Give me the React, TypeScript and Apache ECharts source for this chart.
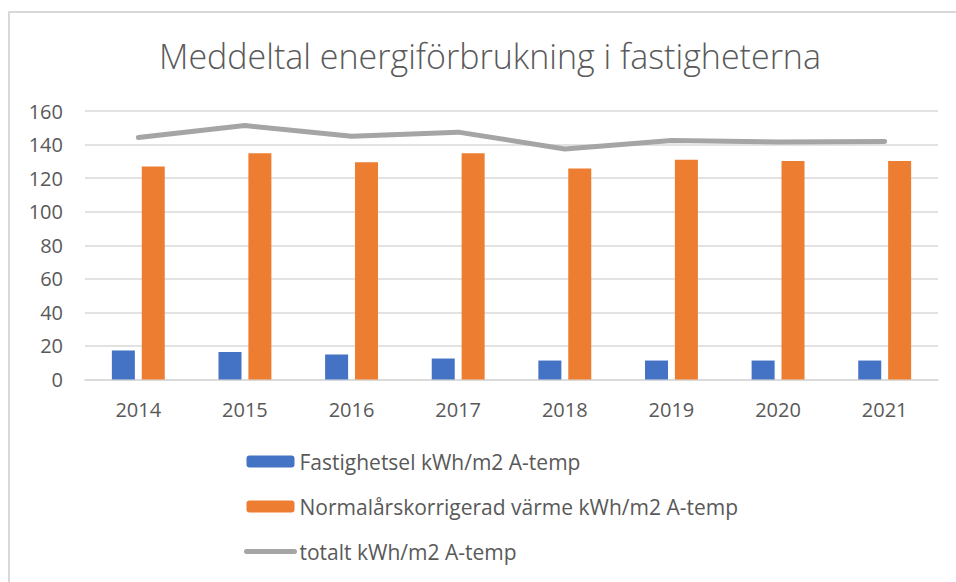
import React, { useEffect, useRef } from "react";
import * as echarts from "echarts";

const years = ["2014", "2015", "2016", "2017", "2018", "2019", "2020", "2021"];
const fastighetsel = [17.3, 16.4, 14.9, 12.5, 11.3, 11.3, 11.3, 11.3];
const varme = [127.0, 134.8, 129.4, 134.8, 125.7, 131.0, 130.2, 130.2];
const totalt = [144.2, 151.3, 145.0, 147.4, 137.4, 142.4, 141.6, 141.8];

const seriesNames = [
  "Fastighetsel kWh/m2 A-temp",
  "Normalårskorrigerad värme kWh/m2 A-temp",
  "totalt kWh/m2 A-temp",
];

const FONT = "'Open Sans', sans-serif";
const TEXT = "#595959";
const GRID = "#d9d9d9";

export default function App() {
  const ref = useRef<HTMLDivElement>(null);
  useEffect(() => {
    if (!ref.current) return;
    const chart = echarts.init(ref.current, undefined, { renderer: "svg" });
    chart.setOption({
      animation: false,
      backgroundColor: "#ffffff",
      title: {
        text: "Meddeltal energiförbrukning i fastigheterna",
        left: 485,
        top: 34,
        textAlign: "center",
        textStyle: {
          fontFamily: FONT,
          fontWeight: 300,
          fontSize: 34,
          color: TEXT,
        },
      },
      graphic: [
        {
          type: "line",
          shape: { x1: 9, y1: 12, x2: 9, y2: 582 },
          style: { stroke: GRID, lineWidth: 2 },
        },
        {
          type: "line",
          shape: { x1: 8, y1: 12, x2: 956, y2: 12 },
          style: { stroke: GRID, lineWidth: 2 },
        },
      ],
      grid: { left: 85, right: 18, top: 111, height: 268.5 },
      legend: {
        orient: "vertical",
        left: 244,
        top: 451,
        padding: 0,
        itemWidth: 48,
        itemHeight: 12,
        itemGap: 24,
        textStyle: { fontFamily: FONT, fontSize: 21, color: TEXT },
        data: [
          seriesNames[0],
          seriesNames[1],
          {
            name: seriesNames[2],
            itemStyle: { color: "rgba(0,0,0,0)", borderWidth: 0, opacity: 0 },
            lineStyle: { color: "#a5a5a5", width: 5, cap: "round" },
          },
        ],
      },
      xAxis: {
        type: "category",
        data: years,
        axisLine: { lineStyle: { color: GRID, width: 1.5 } },
        axisTick: { show: false },
        axisLabel: { fontFamily: FONT, fontSize: 20, color: TEXT, margin: 20 },
      },
      yAxis: {
        type: "value",
        min: 0,
        max: 160,
        interval: 20,
        axisLine: { show: false },
        axisTick: { show: false },
        splitLine: { lineStyle: { color: GRID, width: 1.5 } },
        axisLabel: { fontFamily: FONT, fontSize: 20, color: TEXT, margin: 22 },
      },
      series: [
        {
          name: seriesNames[0],
          type: "bar",
          data: fastighetsel,
          barWidth: 23,
          barGap: "30%",
          itemStyle: { color: "#4472c4" },
        },
        {
          name: seriesNames[1],
          type: "bar",
          data: varme,
          barWidth: 23,
          barGap: "30%",
          itemStyle: { color: "#ed7d31" },
        },
        {
          name: seriesNames[2],
          type: "line",
          data: totalt,
          symbol: "none",
          showSymbol: false,
          lineStyle: { color: "#a5a5a5", width: 5, cap: "round", join: "round" },
          itemStyle: { color: "#a5a5a5" },
        },
      ],
    });
    return () => chart.dispose();
  }, []);
  return (
    <div
      ref={ref}
      style={{ position: "fixed", left: 0, top: 0, width: 956, height: 582 }}
    />
  );
}
